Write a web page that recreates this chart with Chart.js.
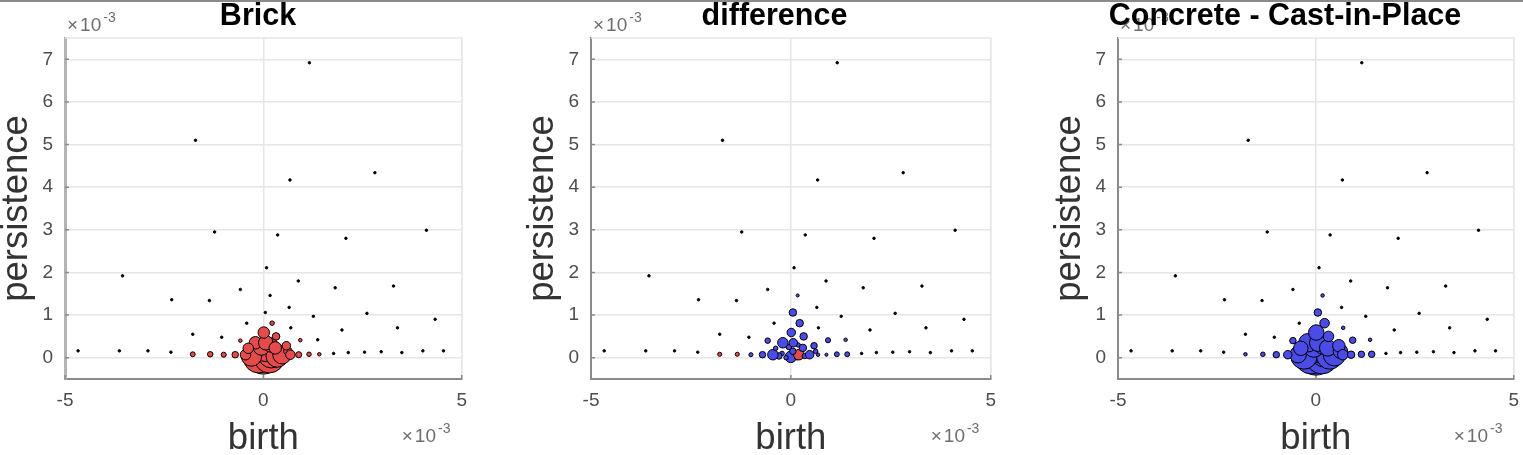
<!DOCTYPE html>
<html>
<head>
<meta charset="utf-8">
<title>Persistence diagrams</title>
<script src="https://cdn.jsdelivr.net/npm/chart.js@4.4.1/dist/chart.umd.min.js"></script>
<style>
    html, body { margin: 0; padding: 0; background: #fff; overflow: hidden; }
    body { width: 1523px; height: 455px; position: relative; }
    .topline { position: absolute; left: 0; top: 0; width: 1523px; height: 2px; background: #8a8a8a; z-index: 2; }
    canvas { position: absolute; top: 0; }
</style>
</head>
<body>
<div class="topline"></div>
<canvas id="brick" width="480" height="455" style="left:0px"></canvas>
<canvas id="diff" width="480" height="455" style="left:526px"></canvas>
<canvas id="concrete" width="480" height="455" style="left:1053px"></canvas>

<script>
// points of the persistence diagram, both axes in units of 1e-3
// (cluster near the origin first, biggest markers first, then the outer points)
const births = [
    0.00, -0.12, 0.15, 0.20, -0.22, 0.05, -0.30, 0.35, 0.47, -0.45,
    -0.05, 0.18, -0.20, 0.06, 0.30, -0.38, 0.62, 0.01, 0.32, 0.58, 0.68,
    1.16, -1.71, 0.67, 2.81, -1.23, 0.36, 2.08, 4.11, -3.55, 0.08,
    0.88, 1.81, 3.28, -2.31, -1.36, -0.58, 0.17, 0.65, 0.05, 1.26,
    2.61, 4.33, -0.42, 0.22, 0.69, 1.98, 3.38, -1.78, -1.05, -0.58,
    0.93, 1.37,
    -4.67, -3.63, -2.91, -2.33, -1.78, -1.34, -1.00, -0.71, 0.89, 1.15,
    1.41, 1.77, 2.14, 2.55, 2.97, 3.49, 4.02, 4.54
];
const persistence = [
    0.02, 0.00, 0.00, 0.07, 0.10, 0.15, 0.04, 0.04, 0.07, 0.07,
    0.25, 0.30, 0.35, 0.35, 0.23, 0.22, 0.15, 0.59, 0.50, 0.28, 0.07,
    6.92, 5.10, 4.17, 4.34, 2.95, 2.88, 2.80, 2.99, 1.92, 2.11,
    1.80, 1.64, 1.68, 1.36, 1.34, 1.60, 1.46, 1.18, 1.06, 0.97,
    1.04, 0.90, 0.81, 0.81, 0.70, 0.65, 0.70, 0.55, 0.48, 0.40,
    0.41, 0.42,
    0.16, 0.16, 0.16, 0.13, 0.08, 0.08, 0.07, 0.07, 0.07, 0.08,
    0.08, 0.10, 0.12, 0.13, 0.14, 0.12, 0.16, 0.16
];

// marker weights (0 = bare dot)
const brickWeight = [
    16, 14, 14, 12, 8, 9, 9, 10, 8, 4,
    7, 6, 5, 6, 5, 4, 3, 4.5, 2.5, 3, 3.5,
    0, 0, 0, 0, 0, 0, 0, 0, 0, 0,
    0, 0, 0, 0, 0, 0, 0, 0, 0, 0,
    0, 0, 0, 1, 0, 0, 0, 0, 0, 0.5,
    0.5, 0,
    0, 0, 0, 0, 1.2, 1.5, 1.3, 2, 1.8, 1,
    0.5, 0, 0, 0, 0, 0, 0, 0
];
const concreteWeight = [
    17, 15, 15, 11, 10, 10, 12, 12, 10, 7,
    9, 8, 8, 7.5, 7, 6, 6, 6.5, 4, 5, 4,
    0, 0, 0, 0, 0, 0, 0, 0, 0, 0,
    0, 0, 0, 0, 0, 0, 0.5, 0, 2.5, 0,
    0, 0, 0, 3.5, 0.5, 0, 0, 0, 0, 2,
    2, 0.5,
    0, 0, 0, 0, 0.5, 1, 2, 3, 2.5, 2,
    2, 0, 0, 0, 0, 0, 0, 0
];
// difference panel: > 0 concrete heavier (blue), < 0 brick heavier (red)
const diffWeight = [
    4.5, 1, 1, -4, 1, 2, 2, 1.5, 3, 4,
    1.5, 1, 4, 3, 2.5, 1, 1, 3, 2.5, 2, 0.5,
    0, 0, 0, 0, 0, 0, 0, 0, 0, 0,
    0, 0, 0, 0, 0, 0, 0.3, 0, 2.5, 0,
    0, 0, 0, 2.5, 0, 0, 0, 0, 0, 1.5,
    1.3, 0.5,
    0, 0, 0, 0, -0.8, -0.8, 0.8, 2, 0.3, 1.2,
    1.2, 0, 0, 0, 0, 0, 0, 0
];

const xTicks = [-5, 0, 5];
const yTicks = [0, 1, 2, 3, 4, 5, 6, 7];

const RED = '#e64b4b';
const BLUE = '#4b4be6';

Chart.defaults.font.family = "'Liberation Sans', Arial, Helvetica, sans-serif";

function drawExponent(ctx, x, y) {
    ctx.fillStyle = '#6e6e6e';
    ctx.textAlign = 'left';
    ctx.textBaseline = 'alphabetic';
    ctx.font = "19px 'Liberation Sans', Arial, sans-serif";
    ctx.fillText('\u00d7', x, y);
    const wx = ctx.measureText('\u00d7').width;
    ctx.fillText('10', x + wx + 2, y);
    const w10 = ctx.measureText('10').width;
    ctx.font = "14px 'Liberation Sans', Arial, sans-serif";
    ctx.fillText('-3', x + wx + w10 + 4, y - 9);
}

// light box edges, inward ticks, exponents and the panel title
const panelDecor = {
    id: 'panelDecor',
    beforeDatasetsDraw(chart) {
        const { ctx, chartArea: a, scales } = chart;
        ctx.save();
        ctx.strokeStyle = '#e6e6e6';
        ctx.lineWidth = 1.5;
        ctx.beginPath();
        ctx.moveTo(a.left, a.top);
        ctx.lineTo(a.right, a.top);
        ctx.lineTo(a.right, a.bottom);
        ctx.stroke();

        ctx.strokeStyle = '#8a8a8a';
        ctx.lineWidth = 1.5;
        ctx.beginPath();
        yTicks.forEach(v => {
            const py = scales.y.getPixelForValue(v);
            ctx.moveTo(a.left, py);
            ctx.lineTo(a.left + 4, py);
        });
        xTicks.forEach(v => {
            const px = scales.x.getPixelForValue(v);
            ctx.moveTo(px, a.bottom);
            ctx.lineTo(px, a.bottom - 4);
        });
        ctx.stroke();
        ctx.restore();
    },
    afterDraw(chart, args, opts) {
        const { ctx, chartArea: a } = chart;
        ctx.save();
        drawExponent(ctx, a.left + 2, 31);
        drawExponent(ctx, a.right - 60, 442);

        ctx.fillStyle = '#000';
        ctx.textAlign = 'center';
        ctx.textBaseline = 'alphabetic';
        ctx.font = "bold 30.5px 'Liberation Sans', Arial, sans-serif";
        ctx.fillText(opts.text, a.left + opts.offset, 25);
        ctx.restore();
    }
};

function makePanel(id, title, titleOffset, sizes, colors, leftAxis) {
    const points = births.map((b, i) => ({ x: b, y: persistence[i] }));
    const radii = sizes.map(w => 1.25 + Math.abs(w));

    new Chart(document.getElementById(id), {
        type: 'scatter',
        data: {
            datasets: [{
                data: points,
                pointRadius: radii,
                pointHoverRadius: radii,
                // bare dots (no weight) are drawn black
                backgroundColor: colors.map((c, i) => (sizes[i] === 0 ? '#000' : c)),
                borderColor: '#000',
                borderWidth: 1
            }]
        },
        options: {
            responsive: false,
            animation: false,
            devicePixelRatio: 1,
            events: [],
            layout: { padding: { top: 38, right: 15, left: 0, bottom: 0 } },
            plugins: {
                legend: { display: false },
                tooltip: { enabled: false },
                panelDecor: { text: title, offset: titleOffset }
            },
            scales: {
                x: {
                    type: 'linear',
                    min: -5,
                    max: 5,
                    afterBuildTicks: axis => { axis.ticks = xTicks.map(v => ({ value: v })); },
                    afterFit: axis => { axis.height = 76; },
                    grid: { color: '#e6e6e6', lineWidth: 1.5, drawTicks: false },
                    border: { color: '#8a8a8a', width: 2 },
                    ticks: { padding: 10, color: '#4d4d4d', font: { size: 19 }, maxRotation: 0 },
                    title: {
                        display: true,
                        text: 'birth',
                        color: '#333',
                        font: { size: 36.5, lineHeight: 0.6 },
                        padding: { top: 0, bottom: 5 }
                    }
                },
                y: {
                    type: 'linear',
                    min: -0.5,
                    max: 7.5,
                    afterBuildTicks: axis => { axis.ticks = yTicks.map(v => ({ value: v })); },
                    afterFit: axis => { axis.width = 65; },
                    grid: { color: '#e6e6e6', lineWidth: 1.5, drawTicks: false },
                    border: leftAxis,
                    ticks: { padding: 12, color: '#4d4d4d', font: { size: 19 } },
                    title: {
                        display: true,
                        text: 'persistence',
                        color: '#333',
                        font: { size: 36.5, lineHeight: 0.6 },
                        padding: { top: 6, bottom: 0 }
                    }
                }
            }
        },
        plugins: [panelDecor]
    });
}

makePanel('brick', 'Brick', 193, brickWeight,
    brickWeight.map(() => RED), { color: '#b4b4b4', width: 3 });

makePanel('diff', 'difference', 183.5, diffWeight,
    diffWeight.map(w => (w > 0 ? BLUE : w < 0 ? RED : '#000')), { color: '#8a8a8a', width: 2 });

makePanel('concrete', 'Concrete - Cast-in-Place', 167, concreteWeight,
    concreteWeight.map(() => BLUE), { color: '#8a8a8a', width: 2 });
</script>
</body>
</html>
